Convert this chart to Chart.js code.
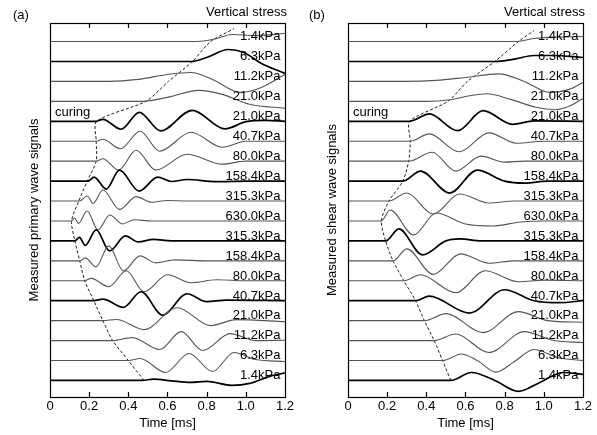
<!DOCTYPE html>
<html>
<head>
<meta charset="utf-8">
<script src="https://cdn.jsdelivr.net/npm/chart.js@4.4.1/dist/chart.umd.min.js"></script>
<style>
body{margin:0;background:#fff;}
#wrap{position:relative;width:597px;height:435px;font-family:"Liberation Sans",Arial,sans-serif;color:#000;}
canvas{position:absolute;top:0;}
#graficoA{left:0;}
#graficoB{left:298px;}
.txt{position:absolute;font-size:13px;line-height:15px;white-space:nowrap;}
</style>
</head>
<body>
<div id="wrap">
<canvas id="graficoA" width="297" height="435"></canvas>
<canvas id="graficoB" width="297" height="435"></canvas>
<div class="txt" style="left:13px;top:7px;">(a)</div>
<div class="txt" style="right:310px;top:4px;">Vertical stress</div>
<div class="txt" style="left:309px;top:7px;">(b)</div>
<div class="txt" style="right:12px;top:4px;">Vertical stress</div>
</div>
<script>

// ==============================
// DATA
// ==============================

// label of every trace, bottom trace first
const stressLabels = ["1.4kPa","6.3kPa","11.2kPa","21.0kPa","40.7kPa","80.0kPa","158.4kPa","315.3kPa","630.0kPa",
"315.3kPa","158.4kPa","80.0kPa","40.7kPa","21.0kPa","21.0kPa","11.2kPa","6.3kPa","1.4kPa"];

// time axis ticks [ms]
const timeTicks = [0, 0.2, 0.4, 0.6, 0.8, 1.0, 1.2];

// first arrival, [time ms, trace number]
const primaryArrival = [[0.48,0],[0.40,1],[0.32,2],[0.27,3],[0.224,4],[0.177,5],[0.152,6],[0.127,7],[0.11,8],
[0.147,9],[0.19,10],[0.236,11],[0.236,12],[0.238,13],[0.49,14],[0.605,15],[0.728,16],[0.82,17],[0.94,17.65]];

const shearArrival = [[0.525,0],[0.483,1],[0.44,2],[0.39,3],[0.345,4],[0.285,5],[0.23,6],[0.192,7],[0.17,8],
[0.209,9],[0.28,10],[0.31,11],[0.318,12],[0.315,13],[0.51,14],[0.61,15],[0.75,16],[0.87,17],[0.95,17.55]];

// primary wave signals, [time ms, amplitude], bottom trace first
const primaryWaves = [
[[0,0],[0.47,0],[0.53,0.07],[0.62,-0.02],[0.72,-0.1],[0.80,-0.05],[0.93,-0.25],[1.02,-0.15],[1.12,0.2],[1.2,0.38]],
[[0,0],[0.40,0],[0.46,0.1],[0.59,-0.6],[0.71,0.35],[0.83,-0.55],[0.94,0.4],[1.05,0.05],[1.2,-0.05]],
[[0,0],[0.32,0],[0.42,0.15],[0.56,-0.45],[0.67,0.45],[0.78,-0.5],[0.92,0.35],[1.05,0],[1.2,0.02]],
[[0,0],[0.27,0],[0.34,0.06],[0.48,-0.45],[0.65,0.65],[0.82,-0.25],[0.95,0.05],[1.2,-0.05]],
[[0,0],[0.224,0],[0.27,0.08],[0.375,-0.33],[0.465,0.45],[0.575,-0.72],[0.70,0.35],[0.80,-0.05],[0.9,0.03],[1.2,0]],
[[0,0],[0.177,0],[0.21,0.12],[0.30,-0.3],[0.39,0.5],[0.48,-0.55],[0.60,0.3],[0.72,-0.1],[0.85,0.05],[1.0,0],[1.2,0]],
[[0,0],[0.152,0],[0.18,0.15],[0.235,-0.3],[0.30,0.75],[0.375,-0.5],[0.46,0.25],[0.54,-0.1],[0.64,0.05],[0.8,0],[1.2,0]],
[[0,0],[0.127,0],[0.15,0.18],[0.18,-0.22],[0.236,0.55],[0.304,-0.5],[0.385,0.25],[0.45,-0.05],[0.53,0.08],[0.62,0],[1.2,0]],
[[0,0],[0.11,0],[0.125,0.15],[0.145,-0.12],[0.19,0.5],[0.245,-0.45],[0.305,0.3],[0.37,-0.15],[0.43,0.06],[0.52,0],[1.2,0]],
[[0,0],[0.15,0],[0.19,0.25],[0.22,-0.12],[0.27,0.55],[0.355,-0.42],[0.44,0.22],[0.52,-0.06],[0.6,0.03],[0.7,0],[1.2,0]],
[[0,0],[0.194,0],[0.225,0.2],[0.287,-0.4],[0.355,0.55],[0.455,-0.5],[0.55,0.2],[0.62,-0.02],[0.70,0.08],[0.85,-0.03],[1.0,0],[1.2,0]],
[[0,0],[0.236,0],[0.27,0.12],[0.35,-0.45],[0.44,0.55],[0.54,-0.45],[0.70,0.35],[0.88,-0.15],[1.0,0],[1.2,0]],
[[0,0],[0.236,0],[0.27,0.1],[0.36,-0.38],[0.46,0.5],[0.56,-0.5],[0.72,0.45],[0.88,-0.3],[1.0,0],[1.2,0]],
[[0,0],[0.236,0],[0.27,0.1],[0.363,-0.4],[0.456,0.45],[0.565,-0.48],[0.726,0.55],[0.894,-0.38],[1.0,-0.02],[1.1,0.05],[1.2,0]],
[[0,0],[0.47,0],[0.60,0.2],[0.76,0.55],[0.88,0.35],[1.02,-0.15],[1.2,-0.35]],
[[0,0],[0.30,0],[0.45,0.1],[0.60,0.35],[0.72,0.45],[0.84,0.05],[0.97,-0.55],[1.08,-0.3],[1.2,0.35]],
[[0,0],[0.72,0],[0.80,0.2],[0.91,0.6],[0.99,0.45],[1.08,-0.1],[1.2,-0.6]],
[[0,0],[0.75,0],[0.84,0.12],[0.93,0.35],[1.05,0.3],[1.2,0.4]]
];

// shear wave signals, [time ms, amplitude], bottom trace first
const shearWaves = [
[[0,0],[0.525,0],[0.63,0.4],[0.75,0],[0.87,-0.55],[0.98,-0.1],[1.10,0.4],[1.2,0.3]],
[[0,0],[0.483,0],[0.58,0.33],[0.66,0],[0.755,-0.58],[0.85,-0.05],[0.95,0.55],[1.07,0.15],[1.2,0]],
[[0,0],[0.44,0],[0.55,0.33],[0.72,-0.6],[0.90,0.45],[1.05,0],[1.2,-0.1]],
[[0,0],[0.39,0],[0.50,0.35],[0.69,-0.6],[0.87,0.45],[1.02,0],[1.2,-0.08]],
[[0,0],[0.345,0],[0.415,0.23],[0.62,-0.62],[0.80,0.55],[0.95,0],[1.08,-0.1],[1.2,0]],
[[0,0],[0.285,0],[0.37,0.3],[0.55,-0.6],[0.70,0.5],[0.87,-0.05],[1.0,0.03],[1.2,0]],
[[0,0],[0.23,0],[0.30,0.6],[0.435,-0.68],[0.575,0.35],[0.72,-0.12],[0.85,0],[1.2,0]],
[[0,0],[0.192,0],[0.26,0.6],[0.38,-0.7],[0.50,0],[0.57,0.1],[0.68,0],[1.2,0]],
[[0,0],[0.17,0],[0.215,0.55],[0.335,-0.7],[0.45,0.4],[0.60,-0.15],[0.74,-0.25],[0.88,-0.05],[1.0,0],[1.2,0]],
[[0,0],[0.209,0],[0.30,0.4],[0.435,-0.65],[0.57,0.35],[0.72,-0.1],[0.85,0],[1.2,0]],
[[0,0],[0.28,0],[0.37,0.5],[0.52,-0.6],[0.66,0.55],[0.80,0],[0.90,-0.1],[1.02,0],[1.2,0]],
[[0,0],[0.31,0],[0.43,0.45],[0.55,-0.5],[0.68,0.25],[0.80,-0.05],[0.9,0],[1.2,0]],
[[0,0],[0.318,0],[0.415,0.37],[0.567,-0.53],[0.72,0.42],[0.86,-0.1],[1.0,0],[1.2,0]],
[[0,0],[0.315,0],[0.415,0.37],[0.56,-0.47],[0.69,0.53],[0.84,-0.15],[0.95,0.02],[1.2,0]],
[[0,0],[0.40,0],[0.52,0.08],[0.62,0.28],[0.71,0.38],[0.83,0.1],[0.96,-0.3],[1.06,-0.42],[1.14,-0.2],[1.2,0.15]],
[[0,0],[0.30,0],[0.45,0.05],[0.60,0.2],[0.77,0.38],[0.90,0],[1.03,-0.55],[1.13,-0.4],[1.2,-0.05]],
[[0,0],[0.75,0],[0.85,0.12],[0.95,0.3],[1.05,0.3],[1.2,0.2]],
[[0,0],[0.85,0],[0.95,0.15],[1.05,0.22],[1.2,0.25]]
];

// ==============================
// STYLE
// ==============================

Chart.defaults.font.family = '"Liberation Sans", Arial, sans-serif';
Chart.defaults.color = "#000";

// traces drawn with the heavy pen
const thick = [0, 4, 7, 10, 13, 16];

// ==============================
// PLUGINS
// ==============================

// box round the plot and inward ticks top and bottom
const marco = {
id: "marco",
afterDraw(chart){
const a = chart.chartArea;
const ctx = chart.ctx;
const x = chart.scales.x;
ctx.save();
ctx.strokeStyle = "#000";
ctx.lineWidth = 1.2;
ctx.strokeRect(Math.round(a.left) + 0.5, Math.round(a.top) + 0.5, Math.round(a.right - a.left), Math.round(a.bottom - a.top));
ctx.beginPath();
timeTicks.slice(1, -1).forEach(v => {
let px = Math.round(x.getPixelForValue(v)) + 0.5;
ctx.moveTo(px, a.bottom);
ctx.lineTo(px, a.bottom - 5);
ctx.moveTo(px, a.top);
ctx.lineTo(px, a.top + 5);
});
ctx.stroke();
ctx.restore();
}
};

// stress labels on the right and "curing"
const etiquetas = {
id: "etiquetas",
afterDatasetsDraw(chart){
const ctx = chart.ctx;
const x = chart.scales.x;
const y = chart.scales.y;
ctx.save();
ctx.font = '13px "Liberation Sans", Arial, sans-serif';
ctx.fillStyle = "#000";
ctx.textBaseline = "alphabetic";
ctx.textAlign = "right";
stressLabels.forEach((t, k) => {
ctx.fillText(t, x.getPixelForValue(1.177), y.getPixelForValue(k + 0.06));
});
ctx.textAlign = "left";
ctx.fillText("curing", x.getPixelForValue(0.025), y.getPixelForValue(13.27));
ctx.restore();
}
};

// ==============================
// PANELS
// ==============================

function buildDatasets(waves, arrival){

let ds = waves.map((w, k) => ({
data: w.map(p => ({x: p[0], y: k + p[1]})),
borderColor: thick.includes(k) ? "#000" : "#555",
borderWidth: thick.includes(k) ? 1.7 : 1.1,
pointRadius: 0,
cubicInterpolationMode: "monotone",
fill: false
}));

ds.push({
data: arrival.map(p => ({x: p[0], y: p[1]})),
borderColor: "#222",
borderWidth: 1,
borderDash: [3, 2],
pointRadius: 0,
tension: 0.25,
fill: false
});

return ds;

}

function buildPanel(id, waves, arrival, yTitle){

return new Chart(document.getElementById(id).getContext("2d"), {

type: "line",

data: { datasets: buildDatasets(waves, arrival) },

options: {
responsive: false,
animation: false,
layout: { padding: { left: 28, right: 10, top: 23, bottom: 0 } },
plugins: {
legend: { display: false },
tooltip: { enabled: false }
},
scales: {
x: {
type: "linear",
min: 0,
max: 1.2,
afterBuildTicks: s => { s.ticks = timeTicks.map(v => ({ value: v })); },
ticks: {
font: { size: 13, lineHeight: 1 },
padding: 3,
maxRotation: 0,
autoSkip: false,
callback: v => v === 0 ? "0" : v.toFixed(1)
},
grid: { display: false, drawTicks: false },
border: { display: false },
title: {
display: true,
text: "Time [ms]",
font: { size: 13, lineHeight: 1 },
padding: { top: 0.5, bottom: 5.5 }
}
},
y: {
type: "linear",
min: -0.83,
max: 17.93,
ticks: { display: false },
grid: { display: false, drawTicks: false },
border: { display: false },
title: {
display: true,
text: yTitle,
font: { size: 13, lineHeight: 1 },
padding: 0
},
afterFit: s => { s.width = 22; }
}
}
},

plugins: [marco, etiquetas]

});

}

// ==============================
// INICIAR
// ==============================

buildPanel("graficoA", primaryWaves, primaryArrival, "Measured primary wave signals");
buildPanel("graficoB", shearWaves, shearArrival, "Measured shear wave signals");

</script>
</body>
</html>
